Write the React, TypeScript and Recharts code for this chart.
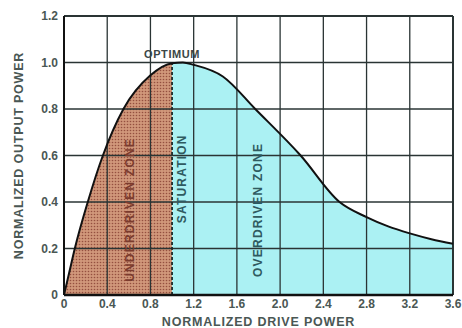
import {
  ComposedChart,
  Area,
  Line,
  XAxis,
  YAxis,
  ReferenceLine,
  ReferenceDot,
} from "recharts";

const driveX = [0, 0.05, 0.1, 0.22, 0.36, 0.55, 0.8, 1.0, 1.1, 1.2, 1.47, 1.77, 2.19, 2.55, 2.8, 3.0, 3.2, 3.4, 3.6];
const outputY = [0, 0.1, 0.2, 0.4, 0.6, 0.8, 0.945, 0.997, 1.0, 0.99, 0.94, 0.8, 0.6, 0.4, 0.335, 0.295, 0.265, 0.24, 0.22];
const xTicks = [0, 0.4, 0.8, 1.2, 1.6, 2.0, 2.4, 2.8, 3.2, 3.6];
const yTicks = [0, 0.2, 0.4, 0.6, 0.8, 1.0, 1.2];
const saturationX = 1.0;

const data = driveX.map((x, i) => ({
  x,
  y: outputY[i],
  under: x <= saturationX ? outputY[i] : null,
  over: x >= saturationX ? outputY[i] : null,
}));

const FONT = "'Liberation Sans', Arial, sans-serif";
const TEXT = "#4a5754";
const GRID = "#2a3434";

const zoneLabel = (value: string, color: string) => ({
  value,
  angle: -90,
  position: "center" as const,
  fill: color,
  fontSize: 12,
  fontWeight: 700,
  fontFamily: FONT,
  letterSpacing: 1.2,
});

const titleStyle = {
  fill: TEXT,
  fontSize: 12.5,
  fontWeight: 700,
  fontFamily: FONT,
  letterSpacing: 0.8,
};

// y title drawn by hand so it stays centred on the axis
const YTitle = (props: any) => {
  const vb = props.viewBox || { x: 28, y: 16, width: 36, height: 279 };
  const cx = vb.x - 9;
  const cy = vb.y + vb.height / 2;
  return (
    <text
      x={cx}
      y={cy}
      transform={`rotate(-90, ${cx}, ${cy})`}
      textAnchor="middle"
      dominantBaseline="central"
      {...titleStyle}
    >
      NORMALIZED OUTPUT POWER
    </text>
  );
};

export default function App() {
  return (
    <div style={{ position: "absolute", left: 0, top: 0, background: "#fff" }}>
      <ComposedChart
        width={462}
        height={328}
        data={data}
        margin={{ top: 16, right: 9, bottom: 13, left: 28 }}
      >
        <defs>
          <pattern id="dots" width="3" height="3" patternUnits="userSpaceOnUse">
            <rect width="3" height="3" fill="#d0977a" />
            <circle cx="1.5" cy="1.5" r="0.8" fill="#94503f" />
          </pattern>
        </defs>
        <XAxis
          type="number"
          dataKey="x"
          domain={[0, 3.6]}
          ticks={xTicks}
          tickFormatter={(v: number) => (v === 0 ? "0" : v.toFixed(1))}
          height={20}
          tickLine={false}
          tickSize={2}
          tickMargin={2}
          axisLine={{ stroke: "#111", strokeWidth: 2.5 }}
          tick={{ fill: TEXT, fontSize: 12, fontWeight: 700, fontFamily: FONT }}
          label={{
            value: "NORMALIZED DRIVE POWER",
            position: "bottom",
            offset: 2,
            ...titleStyle,
          }}
        />
        <YAxis
          type="number"
          domain={[0, 1.2]}
          ticks={yTicks}
          tickFormatter={(v: number) => (v === 0 ? "0" : v.toFixed(1))}
          width={36}
          tickLine={false}
          tickSize={4}
          tickMargin={2}
          axisLine={{ stroke: "#111", strokeWidth: 2 }}
          tick={{ fill: TEXT, fontSize: 12, fontWeight: 700, fontFamily: FONT }}
          label={{ content: YTitle }}
        />
        <Area
          type="monotone"
          dataKey="under"
          stroke="none"
          fill="url(#dots)"
          fillOpacity={1}
          isAnimationActive={false}
        />
        <Area
          type="monotone"
          dataKey="over"
          stroke="none"
          fill="#abf1f3"
          fillOpacity={1}
          isAnimationActive={false}
        />
        {xTicks.slice(1).map((t) => (
          <ReferenceLine
            key={"x" + t}
            x={t}
            stroke={GRID}
            strokeWidth={t === 3.6 ? 2 : 1.3}
          />
        ))}
        {yTicks.slice(1).map((t) => (
          <ReferenceLine
            key={"y" + t}
            y={t}
            stroke={GRID}
            strokeWidth={t === 1.2 ? 2 : 1.3}
          />
        ))}
        <ReferenceLine
          segment={[
            { x: saturationX, y: 0 },
            { x: saturationX, y: 0.997 },
          ]}
          stroke="#1e2a2a"
          strokeWidth={1.8}
          strokeDasharray="3 2"
        />
        <Line
          type="monotone"
          dataKey="y"
          stroke="#111"
          strokeWidth={2}
          dot={false}
          isAnimationActive={false}
        />
        <ReferenceDot
          x={1.0}
          y={1.0}
          r={0}
          stroke="none"
          label={{
            value: "OPTIMUM",
            position: "top",
            offset: 5,
            fill: "#3c4746",
            fontSize: 11,
            fontWeight: 700,
            fontFamily: FONT,
            letterSpacing: 0.6,
          }}
        />
        <ReferenceDot x={0.61} y={0.366} r={0} stroke="none" label={zoneLabel("UNDERDRIVEN ZONE", "#7b3b2e")} />
        <ReferenceDot x={1.09} y={0.5} r={0} stroke="none" label={zoneLabel("SATURATION", "#2f5a60")} />
        <ReferenceDot x={1.79} y={0.366} r={0} stroke="none" label={zoneLabel("OVERDRIVEN ZONE", "#2f5a60")} />
      </ComposedChart>
    </div>
  );
}
